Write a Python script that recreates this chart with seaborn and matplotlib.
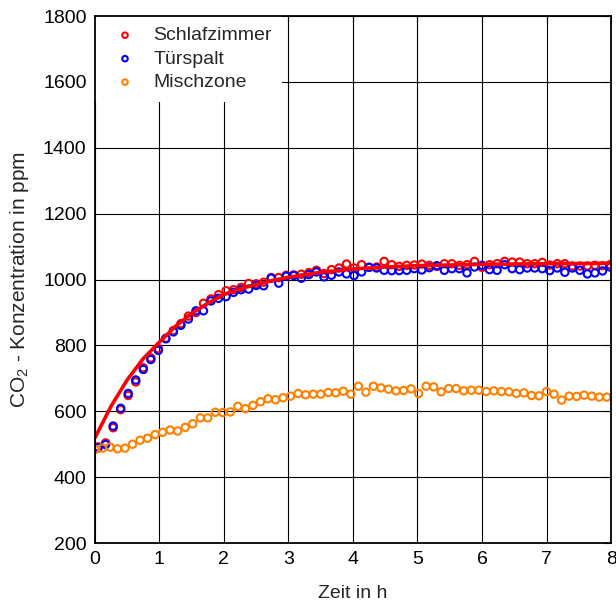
import numpy as np
import pandas as pd
import matplotlib
matplotlib.use("Agg")
import matplotlib.pyplot as plt
import seaborn as sns

# Messwerte, alle 7 min (Schlafzimmer/Tuerspalt ca. 3 min versetzt)
dt = 7 / 60
offset_sz = 0.05

schlafzimmer = [492, 504, 550, 605, 648, 689, 732, 762, 790, 822,
                845, 866, 889, 900, 928, 941, 954, 966, 969, 976,
                988, 987, 992, 1006, 1006, 1013, 1014, 1016, 1021, 1028,
                1018, 1030, 1035, 1047, 1035, 1045, 1037, 1038, 1055, 1045,
                1040, 1043, 1044, 1047, 1043, 1040, 1048, 1048, 1043, 1045,
                1055, 1037, 1045, 1048, 1055, 1053, 1053, 1048, 1048, 1052,
                1044, 1048, 1048, 1041, 1041, 1041, 1043, 1042, 1045]
tuerspalt = [489, 499, 555, 609, 654, 695, 727, 757, 785, 820,
             841, 861, 880, 905, 905, 935, 943, 948, 961, 969,
             971, 982, 981, 1004, 989, 1010, 1012, 1004, 1015, 1023,
             1008, 1013, 1023, 1017, 1012, 1023, 1037, 1035, 1028, 1027,
             1027, 1028, 1033, 1029, 1036, 1042, 1028, 1033, 1033, 1020,
             1038, 1043, 1030, 1028, 1045, 1033, 1030, 1035, 1035, 1033,
             1027, 1035, 1022, 1035, 1028, 1017, 1020, 1026, 1038]
mischzone = [484, 488, 491, 486, 488, 500, 512, 518, 529, 536,
             543, 540, 551, 562, 580, 580, 597, 596, 598, 615,
             608, 618, 629, 638, 635, 641, 646, 654, 650, 652,
             652, 657, 656, 661, 652, 676, 658, 676, 671, 667,
             662, 663, 668, 654, 676, 674, 659, 669, 669, 662,
             664, 664, 660, 662, 660, 659, 654, 656, 648, 647,
             660, 652, 634, 646, 645, 649, 646, 643, 643]

# Ausgleichskurve Schlafzimmer
fit_t = [0, 0.25, 0.5, 0.75, 1, 1.25, 1.5, 1.75, 2, 2.25, 2.5, 2.75,
         3, 3.5, 4, 4.5, 5, 6, 7, 8]
fit_v = [519, 615, 695, 760, 810, 858, 897, 928, 955, 972, 985, 997,
         1007, 1022, 1032, 1038, 1042, 1046, 1048, 1049]

t_mz = np.arange(len(mischzone)) * dt
t_sz = np.arange(len(schlafzimmer)) * dt + offset_sz

sns.set_style("white")
plt.rcParams["font.family"] = ["Liberation Sans", "DejaVu Sans"]
plt.rcParams["mathtext.fontset"] = "custom"
plt.rcParams["mathtext.rm"] = "Liberation Sans"

fig = plt.figure(figsize=(6.16, 6.07), dpi=100)
ax = fig.add_axes([0.154, 0.1054, 0.838, 0.8682])

mk = dict(marker="o", s=28, linewidth=1.5, facecolor="none", zorder=3)
sns.scatterplot(x=t_sz, y=schlafzimmer, ax=ax, color="red", edgecolor="red",
                label="Schlafzimmer", **mk)
sns.scatterplot(x=t_sz, y=tuerspalt, ax=ax, color="blue", edgecolor="blue",
                label="Türspalt", **mk)
sns.scatterplot(x=t_mz, y=mischzone, ax=ax, color="#ff8000", edgecolor="#ff8000",
                label="Mischzone", **mk)
sns.lineplot(x=fit_t, y=fit_v, ax=ax, color="red", linewidth=2.6, zorder=4)

ax.set_xlim(0, 8)
ax.set_ylim(200, 1800)
ax.set_xticks(range(0, 9))
ax.set_yticks(range(200, 1801, 200))
ax.grid(True, color="black", linewidth=0.8)
ax.set_axisbelow(True)
ax.tick_params(direction="in", length=5, labelsize=14, top=True, right=True,
               colors="black", pad=6)
for sp in ax.spines.values():
    sp.set_color("black")
    sp.set_linewidth(1.3)
    sp.set_zorder(6)

ax.set_xlabel("Zeit in h", fontsize=14, labelpad=12)
ax.set_ylabel("CO$_2$ - Konzentration in ppm", fontsize=15)
ax.yaxis.set_label_coords(-0.123, 0.5)

leg = ax.legend(loc="upper left", fontsize=14, markerscale=0.75, frameon=True,
                fancybox=False, framealpha=1, edgecolor="none",
                facecolor="white", handletextpad=0.45, borderaxespad=0.0,
                borderpad=0.55, labelspacing=0.3)
leg.set_zorder(5)

fig.savefig("out.png", dpi=100)
